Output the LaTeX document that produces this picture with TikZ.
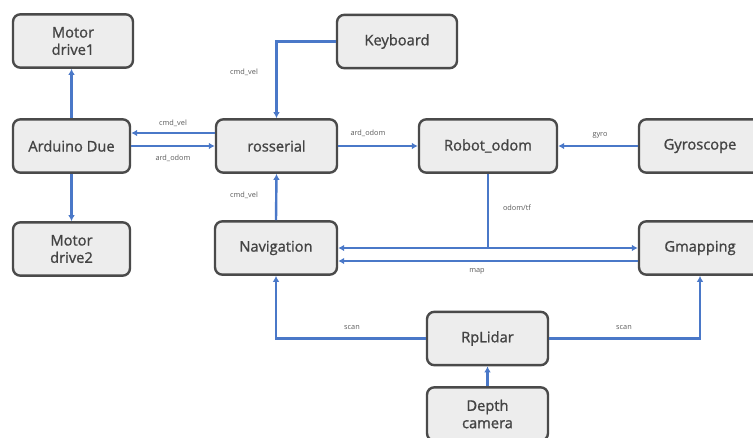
\documentclass[tikz,border=0pt]{standalone}
\usepackage{fontspec}
\setmainfont{Open Sans}
\newfontfamily\boxfont[FakeBold=1.2]{Open Sans}
\usetikzlibrary{arrows.meta}
\definecolor{boxfill}{HTML}{EDEDED}
\definecolor{boxline}{HTML}{4A4A4A}
\definecolor{boxtext}{HTML}{444444}
\definecolor{linkblue}{HTML}{4A78C8}
\definecolor{lbltext}{HTML}{5A5A5A}
\begin{document}
\begin{tikzpicture}[x=0.75pt,y=-0.75pt,
  blk/.style={draw=boxline, line width=1.8pt, fill=boxfill, rounded corners=5.5pt,
    minimum height=40pt, inner sep=1pt, align=center, text=boxtext,
    font=\boxfont\fontsize{11}{13}\selectfont},
  arr/.style={draw=linkblue, line width=1.8pt, -{Latex[length=4.5pt,width=5pt]}},
  ln/.style={draw=linkblue, line width=1.8pt},
  lbl/.style={text=lbltext, font=\fontsize{5.5}{6}\selectfont, inner sep=0pt}]
\useasboundingbox (0,0) rectangle (753,437);
\clip (0,0) rectangle (753,437);
% nodes
\node[blk, minimum width=90pt] (md1) at (73,41) {Motor\\drive1};
\node[blk, minimum width=87.75pt] (ard) at (71.5,146) {Arduino Due};
\node[blk, minimum width=87.75pt] (md2) at (71.5,249) {Motor\\drive2};
\node[blk, minimum width=90pt] (kb) at (397,41.5) {Keyboard};
\node[blk, minimum width=90.75pt] (ros) at (276.5,146) {rosserial};
\node[blk, minimum width=103.5pt] (odom) at (488,146) {Robot\_odom};
\node[blk, minimum width=91.5pt] (gyro) at (700,146) {Gyroscope};
\node[blk, minimum width=91.5pt] (nav) at (276,248) {Navigation};
\node[blk, minimum width=91.5pt] (gmap) at (700,248) {Gmapping};
\node[blk, minimum width=90.75pt] (rpl) at (487.5,338.5) {RpLidar};
\node[blk, minimum width=90.75pt] (dep) at (487.5,414) {Depth\\camera};
% connectors
\draw[arr] (ard.north) -- (ard.north |- md1.south);
\draw[arr] (ard.south) -- (ard.south |- md2.north);
\draw[arr] (ros.west |- 0,133) -- (ard.east |- 0,133);
\draw[arr] (ard.east) -- (ros.west);
\draw[arr] (kb.west) -| (ros.north);
\draw[arr] (ros.east) -- (odom.west);
\draw[arr] (gyro.west) -- (odom.east);
\coordinate (j) at (odom.south |- nav.east);
\draw[ln] (odom.south) -- (j);
\draw[arr] (j) -- (nav.east);
\draw[arr] (j) -- (gmap.west);
\draw[arr] (gmap.west |- 0,261) -- (nav.east |- 0,261);
\draw[arr] (nav.north) -- (ros.south);
\draw[arr] (rpl.west) -| (nav.south);
\draw[arr] (rpl.east) -| (gmap.south);
\draw[arr] (dep.north) -- (rpl.south);
% labels
\node[lbl] (l1) at (173,123) {cmd\_vel};
\node[lbl] (l2) at (173,158) {ard\_odom};
\node[lbl] (l3) at (244,72) {cmd\_vel};
\node[lbl] (l4) at (244,195) {cmd\_vel};
\node[lbl] (l5) at (368,133) {ard\_odom};
\node[lbl] (l6) at (600,135) {gyro};
\node[lbl] (l7) at (517,208) {odom/tf};
\node[lbl] (l8) at (477,271) {map};
\node[lbl] (l9) at (352,328) {scan};
\node[lbl] (l10) at (624,328) {scan};
\end{tikzpicture}
\end{document}
